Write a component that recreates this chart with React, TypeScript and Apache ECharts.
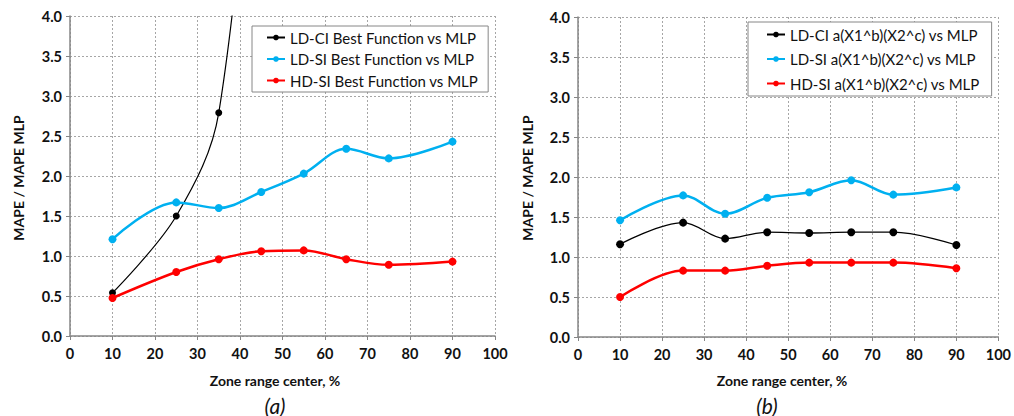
import React, { useEffect, useRef } from "react";
import * as echarts from "echarts";

const ZONES = [10, 25, 35, 45, 55, 65, 75, 90];

// Panel (a): best functions vs MLP
const A_NAMES = ["LD-CI Best Function vs MLP", "LD-SI Best Function vs MLP", "HD-SI Best Function vs MLP"];
const A_LDCI_ZONES = [10, 25, 35, 45];
const A_LDCI = [0.54, 1.5, 2.79, 8.0];
const A_LDSI = [1.21, 1.67, 1.6, 1.8, 2.03, 2.34, 2.22, 2.43];
const A_HDSI = [0.475, 0.8, 0.96, 1.06, 1.07, 0.96, 0.89, 0.93];

// Panel (b): a(X1^b)(X2^c) vs MLP
const B_NAMES = ["LD-CI a(X1^b)(X2^c) vs MLP", "LD-SI a(X1^b)(X2^c) vs MLP", "HD-SI a(X1^b)(X2^c) vs MLP"];
const B_LDCI = [1.16, 1.43, 1.23, 1.31, 1.3, 1.31, 1.31, 1.15];
const B_LDSI = [1.46, 1.77, 1.54, 1.74, 1.81, 1.96, 1.78, 1.87];
const B_HDSI = [0.5, 0.83, 0.83, 0.89, 0.93, 0.93, 0.93, 0.86];

const COLORS = ["#000000", "#00B0F0", "#FF0000"];
const FONT = "Lato, 'Open Sans', sans-serif";

const pairs = (xs: number[], ys: number[]) => ys.map((y, i) => [xs[i], y]);

function xAxisFor(gridIndex: number) {
  return {
    type: "value",
    gridIndex,
    min: 0,
    max: 100,
    interval: 10,
    axisLine: { show: true, lineStyle: { color: "#868686", width: 1.5 } },
    axisTick: { show: true, length: 4, lineStyle: { color: "#868686" } },
    axisLabel: { color: "#111", fontFamily: FONT, fontWeight: "bold", fontSize: 14.5, margin: 10 },
    splitLine: { show: true, lineStyle: { color: "#a6a6a6", type: [2, 2], width: 1 } },
  };
}

function yAxisFor(gridIndex: number) {
  return {
    type: "value",
    gridIndex,
    min: 0,
    max: 4,
    interval: 0.5,
    axisLine: { show: true, lineStyle: { color: "#868686", width: 1.5 } },
    axisTick: { show: true, length: 4, lineStyle: { color: "#868686" } },
    axisLabel: {
      color: "#111",
      fontFamily: FONT,
      fontWeight: "bold",
      fontSize: 14.5,
      margin: 8,
      formatter: (v: number) => v.toFixed(1),
    },
    splitLine: { show: true, lineStyle: { color: "#a6a6a6", type: [2, 2], width: 1 } },
  };
}

function lineSeries(name: string, data: number[][], idx: number, color: string, width: number, size: number) {
  return {
    type: "line",
    name,
    xAxisIndex: idx,
    yAxisIndex: idx,
    data,
    smooth: 0.35,
    symbol: "circle",
    symbolSize: size,
    clip: true,
    lineStyle: { color, width },
    itemStyle: { color },
  };
}

export default function App() {
  const ref = useRef<HTMLDivElement>(null);
  useEffect(() => {
    if (!ref.current) return;
    const chart = echarts.init(ref.current, undefined, { renderer: "svg" });
    const legendText = { fontFamily: FONT, fontSize: 15, color: "#111", lineHeight: 15 };
    const titleStyle = { fontFamily: FONT, fontWeight: "bold", fontSize: 14, fill: "#111", align: "center", verticalAlign: "middle" };
    chart.setOption({
      animation: false,
      backgroundColor: "#ffffff",
      grid: [
        { left: 70, top: 16, width: 425, height: 320 },
        { left: 578, top: 17, width: 424, height: 320 },
      ],
      xAxis: [xAxisFor(0), xAxisFor(1)],
      yAxis: [yAxisFor(0), yAxisFor(1)],
      legend: [
        {
          data: A_NAMES,
          orient: "vertical",
          left: 252,
          top: 26,
          padding: [4, 10, 4, 14],
          itemGap: 6.5,
          itemWidth: 18,
          itemHeight: 7,
          backgroundColor: "#ffffff",
          borderColor: "#868686",
          borderWidth: 1,
          textStyle: legendText,
        },
        {
          data: B_NAMES,
          orient: "vertical",
          left: 748,
          top: 22,
          padding: [5, 12, 5, 18],
          itemGap: 9.5,
          itemWidth: 18,
          itemHeight: 7,
          backgroundColor: "#ffffff",
          borderColor: "#868686",
          borderWidth: 1,
          textStyle: legendText,
        },
      ],
      series: [
        lineSeries(A_NAMES[0], pairs(A_LDCI_ZONES, A_LDCI), 0, COLORS[0], 1.2, 7),
        lineSeries(A_NAMES[1], pairs(ZONES, A_LDSI), 0, COLORS[1], 2.5, 8),
        lineSeries(A_NAMES[2], pairs(ZONES, A_HDSI), 0, COLORS[2], 2.5, 8),
        lineSeries(B_NAMES[0], pairs(ZONES, B_LDCI), 1, COLORS[0], 1.3, 8),
        lineSeries(B_NAMES[1], pairs(ZONES, B_LDSI), 1, COLORS[1], 2.5, 8),
        lineSeries(B_NAMES[2], pairs(ZONES, B_HDSI), 1, COLORS[2], 2.5, 8),
      ],
      graphic: [
        { type: "text", x: 18, y: 178, rotation: Math.PI / 2, style: { text: "MAPE / MAPE MLP", ...titleStyle } },
        { type: "text", x: 527, y: 178, rotation: Math.PI / 2, style: { text: "MAPE / MAPE MLP", ...titleStyle } },
        { type: "text", x: 275, y: 380, style: { text: "Zone range center, %", ...titleStyle } },
        { type: "text", x: 782, y: 380, style: { text: "Zone range center, %", ...titleStyle } },
        {
          type: "text", x: 275, y: 405,
          style: { text: "(a)", fontFamily: FONT, fontStyle: "italic", fontSize: 21, fill: "#111", align: "center", verticalAlign: "middle" },
        },
        {
          type: "text", x: 767, y: 405,
          style: { text: "(b)", fontFamily: FONT, fontStyle: "italic", fontSize: 21, fill: "#111", align: "center", verticalAlign: "middle" },
        },
      ],
    });
    return () => chart.dispose();
  }, []);
  return <div ref={ref} style={{ position: "fixed", left: 0, top: 0, width: 1014, height: 416 }} />;
}
